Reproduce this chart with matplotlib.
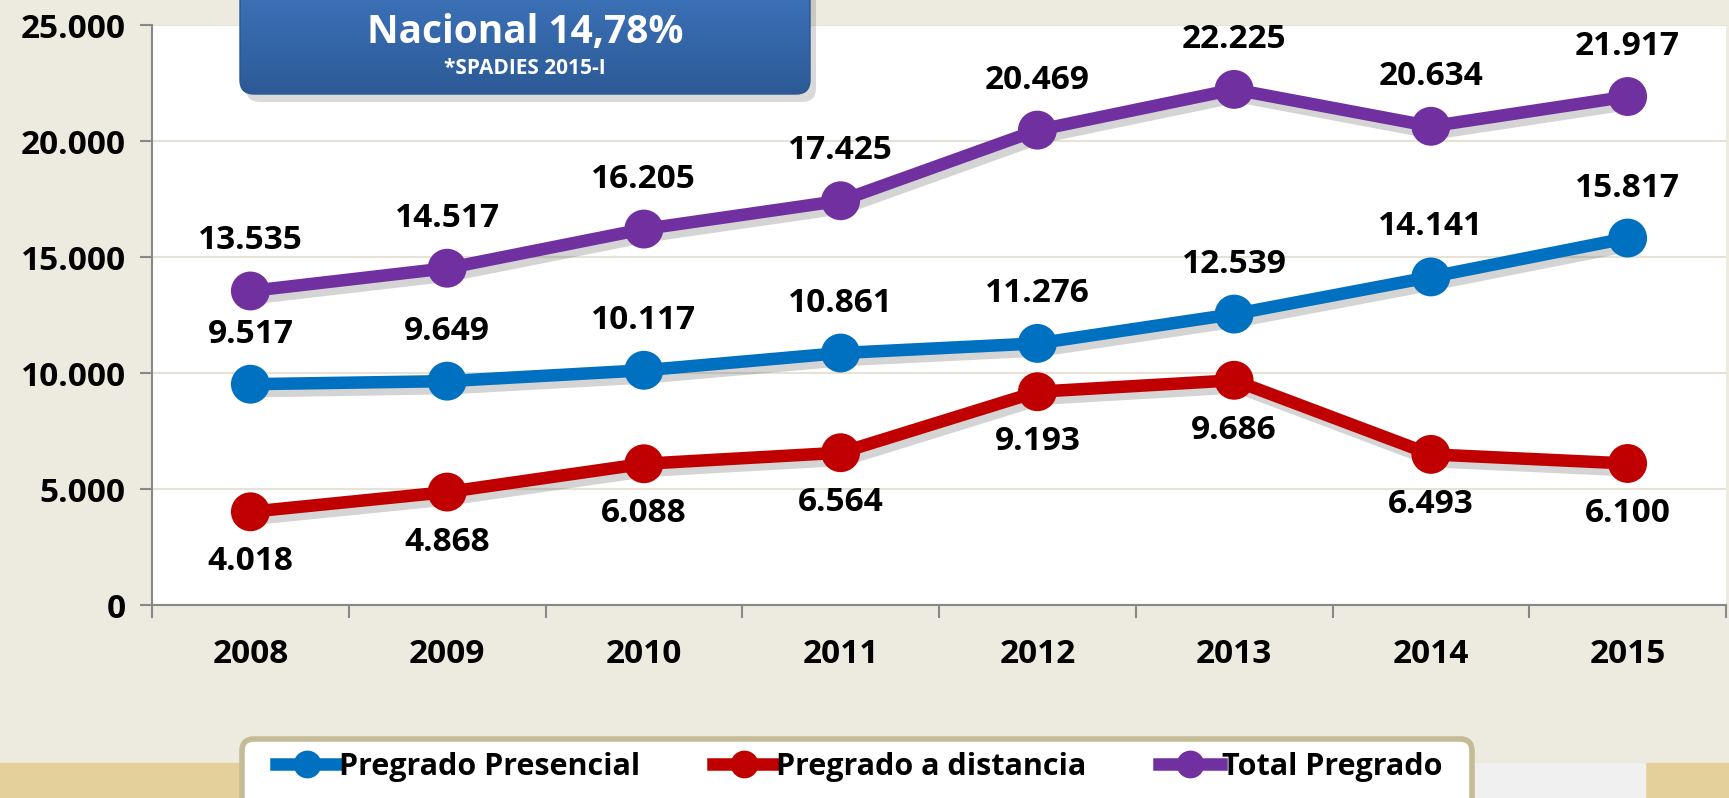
import numpy as np
import matplotlib.pyplot as plt
import matplotlib.patheffects as pe
from matplotlib.patches import FancyBboxPatch, Rectangle
from matplotlib.lines import Line2D
from matplotlib.colors import LinearSegmentedColormap
from matplotlib.ticker import FuncFormatter

plt.rcParams['font.family'] = ['Open Sans', 'DejaVu Sans']
plt.rcParams['font.weight'] = 'bold'

years = ['2008', '2009', '2010', '2011', '2012', '2013', '2014', '2015']
presencial = [9517, 9649, 10117, 10861, 11276, 12539, 14141, 15817]
distancia = [4018, 4868, 6088, 6564, 9193, 9686, 6493, 6100]
total = [13535, 14517, 16205, 17425, 20469, 22225, 20634, 21917]

names = ['Pregrado Presencial', 'Pregrado a distancia', 'Total Pregrado']
colors = ['#0070C0', '#C00000', '#7030A0']
label_side = [1, -1, 1]   # label above (+1) or below (-1) the point

bg = '#EDEBE0'
W, H = 1729, 798

def miles(v):
    return f'{int(v):,}'.replace(',', '.')

fig = plt.figure(figsize=(W/100, H/100), dpi=100, facecolor=bg)
ax = fig.add_axes([152/W, 1-605/H, (1726-152)/W, 580/H])
ax.set_facecolor('white')

x = np.arange(len(years))
shadow = [pe.SimpleLineShadow(offset=(3, -5), shadow_color='#555555', alpha=0.25),
          pe.Normal()]
for vals, c, side in zip([presencial, distancia, total], colors, label_side):
    ax.plot(x, vals, color=c, lw=9, marker='o', ms=28, mew=0, zorder=3,
            path_effects=shadow, solid_capstyle='round')
    for xi, v in zip(x, vals):
        ax.annotate(miles(v), (xi, v), xytext=(0, 36*side),
                    textcoords='offset points', ha='center', va='center',
                    fontsize=24, fontweight='bold', color='black', zorder=4)

ax.set_xlim(-0.5, len(years)-0.5)
ax.set_ylim(0, 25000)
ax.set_yticks(np.arange(0, 25001, 5000))
ax.yaxis.set_major_formatter(FuncFormatter(lambda v, p: miles(v)))
ax.set_xticks(x)
ax.set_xticklabels(years)
ax.set_xticks(np.arange(-0.5, len(years), 1), minor=True)
ax.tick_params(axis='x', which='major', length=0, pad=24, labelsize=24)
ax.tick_params(axis='x', which='minor', length=9, color='#888888', width=1.5)
ax.tick_params(axis='y', length=9, color='#888888', width=1.5, pad=10, labelsize=24)
for lab in ax.get_xticklabels() + ax.get_yticklabels():
    lab.set_fontweight('bold')
ax.grid(axis='y', color='#E6E3D6', lw=1.5)
ax.set_axisbelow(True)
for s in ['top', 'right']:
    ax.spines[s].set_visible(False)
for s in ['left', 'bottom']:
    ax.spines[s].set_color('#888888')
    ax.spines[s].set_linewidth(1.5)

# overlay in pixel coords for decorations
ov = fig.add_axes([0, 0, 1, 1], zorder=4)
ov.axis('off')
ov.patch.set_visible(False)

# bottom textured strip
ov.add_patch(Rectangle((0, 0), W, 35, color='#E4D09A', zorder=1))
ov.add_patch(Rectangle((1473, 0), 172, 35, color='#F0F0F0', zorder=1))
# legend box
ov.add_patch(FancyBboxPatch((242, -40), 1230, 99, boxstyle='round,pad=0,rounding_size=12',
                            facecolor='white', edgecolor='#C4BC96', lw=4, zorder=2))

# title box with gradient and shadow
ov.add_patch(FancyBboxPatch((246, 696), 570, 150, boxstyle='round,pad=0,rounding_size=14',
                            facecolor='black', alpha=0.15, edgecolor='none', zorder=3))
box = FancyBboxPatch((240, 704), 570, 150, boxstyle='round,pad=0,rounding_size=14',
                     facecolor='none', edgecolor='#2A5590', lw=1, zorder=5)
ov.add_patch(box)
grad = np.linspace(0, 1, 100).reshape(-1, 1)
img = ov.imshow(grad, extent=(240, 810, 704, 798), origin='lower', aspect='auto',
                cmap=LinearSegmentedColormap.from_list('g', ['#2C5A96', '#3B70B6']), zorder=4)
img.set_clip_path(box)
ov.set_xlim(0, W)
ov.set_ylim(0, H)
ov.text(525, 765, 'Nacional 14,78%', color='white', fontsize=28, fontweight='bold',
        ha='center', va='center', zorder=6)
ov.text(525, 729, '*SPADIES 2015-I', color='white', fontsize=15, fontweight='bold',
        ha='center', va='center', zorder=6)

handles = [Line2D([], [], color=c, lw=9, marker='o', ms=20, mew=0) for c in colors]
leg = fig.legend(handles, names, loc='center', bbox_to_anchor=(0.497, 1-767/H), ncol=3,
                 frameon=False, handlelength=2.0, handletextpad=0.05, columnspacing=2.4,
                 prop={'size': 22, 'weight': 'bold'})
leg.set_zorder(10)

fig.savefig('out.png', dpi=100, facecolor=bg)
